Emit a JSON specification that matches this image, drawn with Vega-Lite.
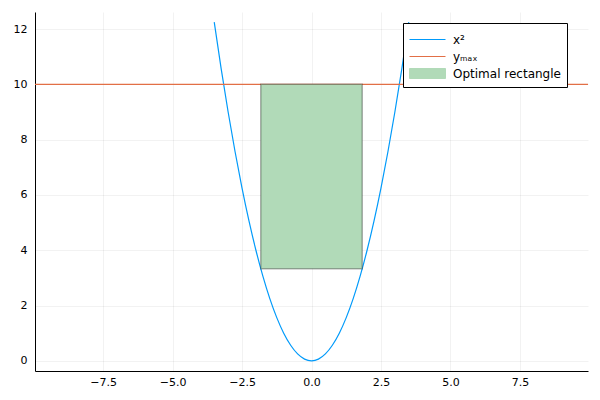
{
  "$schema": "https://vega.github.io/schema/vega-lite/v6.json",
  "width": 553,
  "height": 359,
  "autosize": {"type": "none"},
  "padding": {"left": 35, "top": 12, "right": 12, "bottom": 29},
  "background": "white",
  "config": {
    "view": {"stroke": null},
    "font": "DejaVu Sans",
    "axis": {
      "labelFont": "DejaVu Sans",
      "labelFontSize": 11,
      "labelColor": "#000000",
      "domainColor": "#000000",
      "domainWidth": 1,
      "ticks": false,
      "gridColor": "#000000",
      "gridOpacity": 0.08,
      "gridWidth": 0.7,
      "title": null
    },
    "axisX": {"labelPadding": 5},
    "axisY": {"labelPadding": 8},
    "legend": {
      "title": null,
      "orient": "none",
      "legendX": 368,
      "legendY": 11,
      "padding": 6,
      "fillColor": "white",
      "strokeColor": "#000000",
      "labelFont": "DejaVu Sans",
      "labelFontSize": 12,
      "labelColor": "#000000",
      "symbolSize": 400,
      "symbolOffset": 8,
      "labelOffset": 15,
      "rowPadding": 0,
      "cornerRadius": 0
    }
  },
  "datasets": {
    "parab": [
      {"x": -3.5, "y": 12.25}, {"x": -3.25, "y": 10.5625}, {"x": -3.0, "y": 9.0},
      {"x": -2.75, "y": 7.5625}, {"x": -2.5, "y": 6.25}, {"x": -2.25, "y": 5.0625},
      {"x": -2.0, "y": 4.0}, {"x": -1.75, "y": 3.0625}, {"x": -1.5, "y": 2.25},
      {"x": -1.25, "y": 1.5625}, {"x": -1.0, "y": 1.0}, {"x": -0.75, "y": 0.5625},
      {"x": -0.5, "y": 0.25}, {"x": -0.25, "y": 0.0625}, {"x": 0.0, "y": 0.0},
      {"x": 0.25, "y": 0.0625}, {"x": 0.5, "y": 0.25}, {"x": 0.75, "y": 0.5625},
      {"x": 1.0, "y": 1.0}, {"x": 1.25, "y": 1.5625}, {"x": 1.5, "y": 2.25},
      {"x": 1.75, "y": 3.0625}, {"x": 2.0, "y": 4.0}, {"x": 2.25, "y": 5.0625},
      {"x": 2.5, "y": 6.25}, {"x": 2.75, "y": 7.5625}, {"x": 3.0, "y": 9.0},
      {"x": 3.25, "y": 10.5625}, {"x": 3.5, "y": 12.25}
    ],
    "hline": [{"y": 10, "series": "yₘₐₓ"}],
    "rect": [{"x1": -1.826, "x2": 1.826, "y1": 3.333, "y2": 10, "series": "Optimal rectangle"}]
  },
  "layer": [
    {
      "data": {"name": "parab"},
      "mark": {"type": "line", "strokeWidth": 1.2, "interpolate": "monotone", "clip": true},
      "encoding": {
        "x": {"field": "x", "type": "quantitative",
              "scale": {"domain": [-9.95, 9.95], "nice": false, "zero": false},
              "axis": {"values": [-7.5, -5, -2.5, 0, 2.5, 5, 7.5], "format": ".1f"}},
        "y": {"field": "y", "type": "quantitative",
              "scale": {"domain": [-0.3675, 12.6175], "nice": false, "zero": false},
              "axis": {"values": [0, 2, 4, 6, 8, 10, 12], "format": "d"}},
        "color": {"datum": "x²", "type": "nominal", "title": null,
                  "scale": {"domain": ["x²", "yₘₐₓ", "Optimal rectangle"], "range": ["#009AFA", "#E26F46", "#B1DAB8"]},
                  "legend": {
                    "title": null,
                    "encode": {
                      "symbols": {
                        "update": {
                          "shape": {"signal": "datum.value === 'Optimal rectangle' ? 'M-1.8,-0.5H1.8V0.5H-1.8Z' : 'M-1.8,0H1.8'"},
                          "strokeWidth": {"value": 1},
                          "opacity": {"value": 1}
                        }
                      }
                    }
                  }}
      }
    },
    {
      "data": {"name": "hline"},
      "mark": {"type": "rule", "strokeWidth": 1.2},
      "encoding": {
        "y": {"field": "y", "type": "quantitative"},
        "color": {"field": "series", "type": "nominal", "title": null, "legend": null}
      }
    },
    {
      "data": {"name": "rect"},
      "mark": {"type": "rect", "fillOpacity": 1, "stroke": "#000000", "strokeOpacity": 0.3, "strokeWidth": 1.5},
      "encoding": {
        "x": {"field": "x1", "type": "quantitative"},
        "x2": {"field": "x2"},
        "y": {"field": "y1", "type": "quantitative"},
        "y2": {"field": "y2"},
        "color": {"field": "series", "type": "nominal", "title": null, "legend": null}
      }
    }
  ]
}
